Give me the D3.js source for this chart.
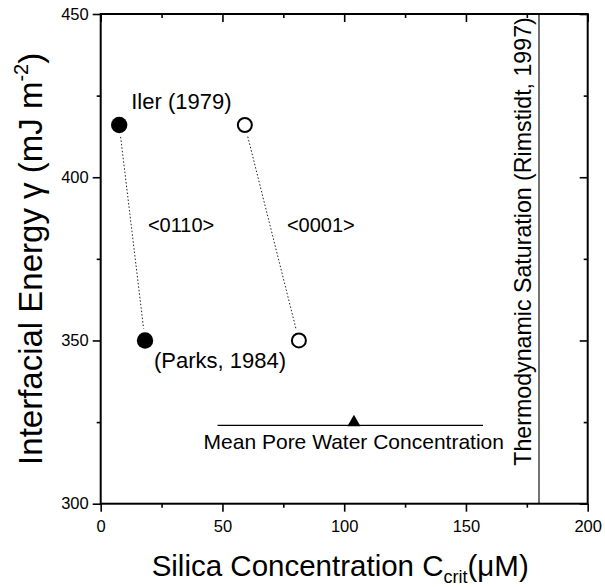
<!DOCTYPE html>
<html>
<head>
<meta charset="utf-8">
<script src="https://cdn.jsdelivr.net/npm/d3@7/dist/d3.min.js"></script>
<style>
  html, body { margin: 0; padding: 0; background: #fff; }
  svg { display: block; font-family: "Liberation Sans", Arial, Helvetica, sans-serif; }
  .axis path { display: none; }
  .axis line { stroke: #000; stroke-width: 1.6; }
  .axis text { font-size: 16.5px; fill: #000; }
</style>
</head>
<body>
<svg id="chart" width="605" height="587"></svg>
<script>
// Critical silica concentration for the two crystal orientations
const orientations = ["<0110>", "<0001>"];
const filledMarker = [true, false];
const ilerEnergy = 416;            // Iler (1979)
const parksEnergy = 350;           // Parks (1984)
const ccritIler = [7.6, 59.2];     // µM at the Iler energy
const ccritParks = [18.2, 81.4];   // µM at the Parks energy

// Mean pore water concentration with its range
const poreWaterMean = [104];
const poreWaterRange = [48, 157];
const poreWaterLevel = [324];

// Thermodynamic saturation
const saturation = [180];

// Axis ticks
const xMajorTicks = [0, 50, 100, 150, 200];
const xMinorTicks = [25, 75, 125, 175];
const yMajorTicks = [300, 350, 400, 450];
const yMinorTicks = [325, 375, 425];

const svg = d3.select("#chart");
const plotLeft = 100.7, plotRight = 587.7, plotTop = 14, plotBottom = 503.7;

const x = d3.scaleLinear().domain([0, 200]).range([plotLeft, plotRight]);
const y = d3.scaleLinear().domain([300, 450]).range([plotBottom, plotTop]);

const MAJOR = 8, MINOR = 4;

// bottom axis: outward ticks with labels
svg.append("g").attr("class", "axis").attr("transform", `translate(0,${plotBottom})`)
  .call(d3.axisBottom(x).tickValues(xMajorTicks).tickSize(MAJOR).tickPadding(9).tickFormat(d3.format("d")));
svg.append("g").attr("class", "axis").attr("transform", `translate(0,${plotBottom})`)
  .call(d3.axisBottom(x).tickValues(xMinorTicks).tickSize(MINOR).tickFormat(""));
// left axis
svg.append("g").attr("class", "axis").attr("transform", `translate(${plotLeft},0)`)
  .call(d3.axisLeft(y).tickValues(yMajorTicks).tickSize(MAJOR).tickPadding(4).tickFormat(d3.format("d")));
svg.append("g").attr("class", "axis").attr("transform", `translate(${plotLeft},0)`)
  .call(d3.axisLeft(y).tickValues(yMinorTicks).tickSize(MINOR).tickFormat(""));
// top and right axes: inward ticks, no labels
svg.append("g").attr("class", "axis").attr("transform", `translate(0,${plotTop})`)
  .call(d3.axisTop(x).tickValues(xMajorTicks).tickSize(-MAJOR).tickFormat(""));
svg.append("g").attr("class", "axis").attr("transform", `translate(0,${plotTop})`)
  .call(d3.axisTop(x).tickValues(xMinorTicks).tickSize(-MINOR).tickFormat(""));
svg.append("g").attr("class", "axis").attr("transform", `translate(${plotRight},0)`)
  .call(d3.axisRight(y).tickValues(yMajorTicks).tickSize(-MAJOR).tickFormat(""));
svg.append("g").attr("class", "axis").attr("transform", `translate(${plotRight},0)`)
  .call(d3.axisRight(y).tickValues(yMinorTicks).tickSize(-MINOR).tickFormat(""));

// plot frame
svg.append("rect")
  .attr("x", plotLeft).attr("y", plotTop)
  .attr("width", plotRight - plotLeft).attr("height", plotBottom - plotTop)
  .attr("fill", "none").attr("stroke", "#000").attr("stroke-width", 2);

// saturation line
svg.selectAll(".sat").data(saturation).join("line")
  .attr("x1", d => x(d)).attr("x2", d => x(d))
  .attr("y1", plotTop).attr("y2", plotBottom)
  .attr("stroke", "#000").attr("stroke-width", 1.1);
svg.selectAll(".satLabel").data(saturation).join("text")
  .attr("transform", d => `translate(${x(d) - 8},${plotBottom - 38}) rotate(-90)`)
  .attr("font-size", 23.2)
  .text("Thermodynamic Saturation (Rimstidt, 1997)");

// pore water range line, mean marker and caption
svg.append("line")
  .attr("x1", x(poreWaterRange[0])).attr("x2", x(poreWaterRange[1]))
  .attr("y1", y(poreWaterLevel[0])).attr("y2", y(poreWaterLevel[0]))
  .attr("stroke", "#000").attr("stroke-width", 1.3);
const tri = d3.symbol().type(d3.symbolTriangle).size(75);
svg.selectAll(".mean").data(poreWaterMean).join("path")
  .attr("d", tri)
  .attr("transform", d => `translate(${x(d)},${y(poreWaterLevel[0]) - 3})`)
  .attr("fill", "#000");
svg.append("text")
  .attr("x", x(poreWaterRange[0]) - 14).attr("y", y(poreWaterLevel[0]) + 24)
  .attr("font-size", 21)
  .text("Mean Pore Water Concentration");

// dotted connectors between Iler and Parks estimates
const pairs = orientations.map((o, i) => ({
  label: o, filled: filledMarker[i],
  x1: x(ccritIler[i]), y1: y(ilerEnergy),
  x2: x(ccritParks[i]), y2: y(parksEnergy)
}));
pairs.forEach(p => {
  const dx = p.x2 - p.x1, dy = p.y2 - p.y1, len = Math.hypot(dx, dy);
  const ux = dx / len, uy = dy / len, gap = 12;
  svg.append("line")
    .attr("x1", p.x1 + ux * gap).attr("y1", p.y1 + uy * gap)
    .attr("x2", p.x2 - ux * gap).attr("y2", p.y2 - uy * gap)
    .attr("stroke", "#222").attr("stroke-width", 1)
    .attr("stroke-dasharray", "1.5,2");
  svg.append("text")
    .attr("x", (p.x1 + p.x2) / 2 + 49).attr("y", (p.y1 + p.y2) / 2 - 1)
    .attr("text-anchor", "middle").attr("font-size", 20)
    .text(p.label);
});

// markers
const points = [];
orientations.forEach((o, i) => {
  points.push({ c: ccritIler[i], e: ilerEnergy, filled: filledMarker[i] });
  points.push({ c: ccritParks[i], e: parksEnergy, filled: filledMarker[i] });
});
svg.selectAll(".pt").data(points).join("circle")
  .attr("cx", d => x(d.c)).attr("cy", d => y(d.e))
  .attr("r", d => d.filled ? 8.2 : 7)
  .attr("fill", d => d.filled ? "#000" : "#fff")
  .attr("stroke", "#000").attr("stroke-width", d => d.filled ? 0 : 2);

// source labels
svg.append("text")
  .attr("x", x(ccritIler[0]) + 12).attr("y", y(ilerEnergy) - 16)
  .attr("font-size", 22).text("Iler (1979)");
svg.append("text")
  .attr("x", x(ccritParks[0]) + 9).attr("y", y(parksEnergy) + 28)
  .attr("font-size", 22).text("(Parks, 1984)");

// axis titles
const xt = svg.append("text")
  .attr("x", (plotLeft + plotRight) / 2 - 4).attr("y", 576)
  .attr("text-anchor", "middle").attr("font-size", 29.5);
xt.append("tspan").text("Silica Concentration C");
xt.append("tspan").attr("font-size", 18).attr("dy", 7).text("crit");
xt.append("tspan").attr("dy", -7).text("(\u03BCM)");

const yt = svg.append("text")
  .attr("transform", `translate(42,${(plotTop + plotBottom) / 2}) rotate(-90)`)
  .attr("text-anchor", "middle").attr("font-size", 33);
yt.append("tspan").text("Interfacial Energy \u03B3 (mJ m");
yt.append("tspan").attr("font-size", 20).attr("dy", -14).text("-2");
yt.append("tspan").attr("dy", 14).text(")");
</script>
</body>
</html>
